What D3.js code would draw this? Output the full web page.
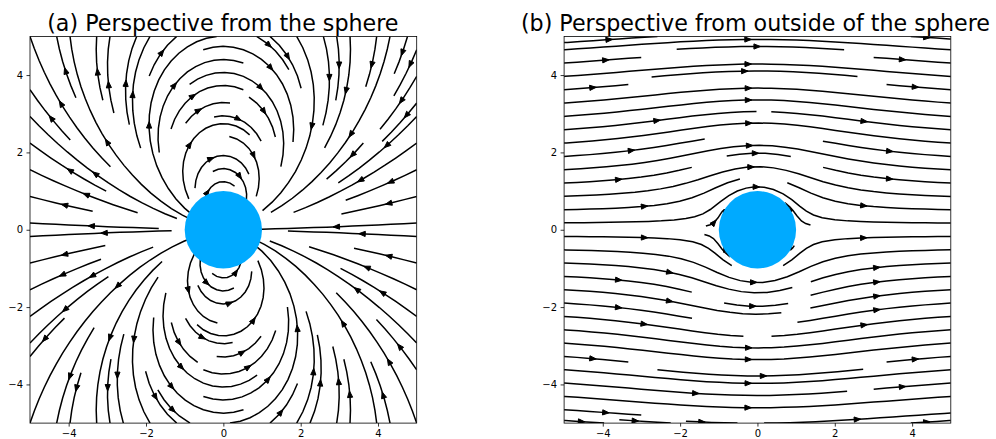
<!doctype html>
<html lang="en">
<head>
<meta charset="utf-8">
<title>Flow past a sphere</title>
<script src="https://d3js.org/d3.v7.min.js"></script>
<style>
  body { margin: 0; background: #fff; }
  text { font-family: "DejaVu Sans", sans-serif; }
</style>
</head>
<body>
<svg id="chart" width="996" height="439"></svg>
<script>
// values
const panelTitles = ["(a) Perspective from the sphere", "(b) Perspective from outside of the sphere"];
const flowModels = ["dipole", "stokes"];  // disturbance seen from the sphere / full flow past it
const flowSpeed = 1;
const sphereRadius = 1;
const gridRange = [-5, 5];
const gridPoints = 100;
const xTicks = [-4, -2, 0, 2, 4];
const yTicks = [-4, -2, 0, 2, 4];

// layout
const panelLeft = [30, 564.1];
const panelTop = 36.4;
const panelSize = 386.7;
const titleShift = [-0.5, -2];

const svg = d3.select("#chart");

// python style round (half to even)
function pyRound(v) {
  const f = Math.floor(v), d = v - f;
  if (d > 0.5) return f + 1;
  if (d < 0.5) return f;
  return f % 2 === 0 ? f : f + 1;
}

function velocityField(model) {
  const xs = d3.range(gridPoints).map(i => gridRange[0] + i * (gridRange[1] - gridRange[0]) / (gridPoints - 1));
  const n = xs.length;
  const U = new Float64Array(n * n), V = new Float64Array(n * n);
  const R = sphereRadius, R3 = Math.pow(R, 3);
  for (let j = 0; j < n; j++) {
    for (let i = 0; i < n; i++) {
      const x = xs[i], y = xs[j], r = Math.hypot(x, y), k = j * n + i;
      if (model === "dipole") {
        const a = R3 / (2 * Math.pow(r, 5));
        U[k] = -flowSpeed * a * (2 * x * x - y * y);
        V[k] = -flowSpeed * 3 * a * x * y;
      } else {
        const r2 = r * r, c = x * x / r2;
        U[k] = flowSpeed * (1 - 0.75 * R / r * (1 + c) - R3 / (4 * r * r2) * (1 - 3 * c));
        V[k] = flowSpeed * 0.75 * x * y / r2 * (R3 / (r * r2) - R / r);
      }
    }
  }
  return { xs: xs, ys: xs, U: U, V: V };
}

// port of matplotlib's streamplot seeding / integration
function streamlines(field) {
  const xs = field.xs, ys = field.ys;
  const nx = xs.length, ny = ys.length;
  const dx = xs[1] - xs[0], dy = ys[1] - ys[0];
  const mnx = 30, mny = 30;
  const mask = new Uint8Array(mnx * mny);
  let currentXY = null, traj = [];
  const xg2m = (mnx - 1) / (nx - 1), yg2m = (mny - 1) / (ny - 1);
  const OOB = {}, TERM = {}, INVALID = {};
  const minlength = 0.1, maxlength = 4.0;

  const ug = new Float64Array(nx * ny), vg = new Float64Array(nx * ny), speed = new Float64Array(nx * ny);
  for (let k = 0; k < nx * ny; k++) {
    ug[k] = field.U[k] / dx;
    vg[k] = field.V[k] / dy;
    const ua = ug[k] / (nx - 1), va = vg[k] / (ny - 1);
    speed[k] = Math.sqrt(ua * ua + va * va);
  }
  const within = (xi, yi) => xi >= 0 && xi <= nx - 1 && yi >= 0 && yi <= ny - 1;

  function interp(a, xi, yi) {
    const x = Math.trunc(xi), y = Math.trunc(yi);
    const xn = x === nx - 1 ? x : x + 1, yn = y === ny - 1 ? y : y + 1;
    const xt = xi - x, yt = yi - y;
    const a0 = a[y * nx + x] * (1 - xt) + a[y * nx + xn] * xt;
    const a1 = a[yn * nx + x] * (1 - xt) + a[yn * nx + xn] * xt;
    const ai = a0 * (1 - yt) + a1 * yt;
    if (Number.isNaN(ai)) throw TERM;
    return ai;
  }

  function updateMask(xm, ym) {
    if (!currentXY || currentXY[0] !== xm || currentXY[1] !== ym) {
      if (mask[ym * mnx + xm] === 0) {
        traj.push(ym * mnx + xm);
        mask[ym * mnx + xm] = 1;
        currentXY = [xm, ym];
      } else {
        throw INVALID;
      }
    }
  }
  const g2m = (xi, yi) => [pyRound(xi * xg2m), pyRound(yi * yg2m)];
  function updateTrajectory(xi, yi) {
    if (!within(xi, yi)) throw INVALID;
    const m = g2m(xi, yi);
    updateMask(m[0], m[1]);
  }

  function forward(xi, yi) {
    if (!within(xi, yi)) throw OOB;
    const s = interp(speed, xi, yi);
    if (s === 0) throw TERM;
    const dt = 1 / s;
    return [interp(ug, xi, yi) * dt, interp(vg, xi, yi) * dt];
  }
  function backward(xi, yi) {
    const d = forward(xi, yi);
    return [-d[0], -d[1]];
  }

  function euler(pts, f) {
    const last = pts[pts.length - 1];
    const xi = last[0], yi = last[1];
    const c = f(xi, yi), cx = c[0], cy = c[1];
    const dsx = cx === 0 ? Infinity : cx < 0 ? xi / -cx : (nx - 1 - xi) / cx;
    const dsy = cy === 0 ? Infinity : cy < 0 ? yi / -cy : (ny - 1 - yi) / cy;
    const ds = Math.min(dsx, dsy);
    pts.push([xi + cx * ds, yi + cy * ds]);
    return ds;
  }

  function rk12(x0, y0, f) {
    const maxerror = 0.003;
    const maxds = Math.min(1 / mnx, 1 / mny, 0.1);
    let ds = maxds, stotal = 0, xi = x0, yi = y0;
    const pts = [];
    while (true) {
      let k1, k2;
      try {
        if (within(xi, yi)) pts.push([xi, yi]);
        else throw OOB;
        k1 = f(xi, yi);
        k2 = f(xi + ds * k1[0], yi + ds * k1[1]);
      } catch (e) {
        if (e === OOB) {
          if (pts.length) {
            try { stotal += euler(pts, f); } catch (e2) { /* masked edge */ }
          }
          break;
        }
        if (e === TERM) break;
        throw e;
      }
      const dx1 = ds * k1[0], dy1 = ds * k1[1];
      const dx2 = ds * 0.5 * (k1[0] + k2[0]), dy2 = ds * 0.5 * (k1[1] + k2[1]);
      const error = Math.hypot((dx2 - dx1) / (nx - 1), (dy2 - dy1) / (ny - 1));
      if (error < maxerror) {
        xi += dx2;
        yi += dy2;
        try { updateTrajectory(xi, yi); } catch (e) { if (e === INVALID) break; throw e; }
        if (stotal + ds > maxlength) break;
        stotal += ds;
      }
      ds = error === 0 ? maxds : Math.min(maxds, 0.85 * ds * Math.sqrt(maxerror / error));
    }
    return [stotal, pts];
  }

  function integrate(x0, y0) {
    let stotal = 0, pts = [];
    try {
      const m = g2m(x0, y0);
      traj = [];
      updateMask(m[0], m[1]);
    } catch (e) {
      if (e === INVALID) return null;
      throw e;
    }
    let res = rk12(x0, y0, backward);
    stotal += res[0];
    pts = res[1].reverse();
    currentXY = g2m(x0, y0);
    res = rk12(x0, y0, forward);
    stotal += res[0];
    pts = pts.concat(res[1].slice(1));
    if (stotal > minlength) return pts;
    traj.forEach(k => { mask[k] = 0; });
    return null;
  }

  const lines = [];
  let xfirst = 0, yfirst = 1, xlast = mnx - 1, ylast = mny - 1, x = 0, y = 0, dir = 0;
  for (let i = 0; i < mnx * mny; i++) {
    if (x >= 0 && x < mnx && y >= 0 && y < mny && mask[y * mnx + x] === 0) {
      const t = integrate(x / xg2m, y / yg2m);
      if (t) lines.push(t.map(p => [p[0] * dx + xs[0], p[1] * dy + ys[0]]));
    }
    if (dir === 0) { x++; if (x >= xlast) { xlast--; dir = 1; } }
    else if (dir === 1) { y++; if (y >= ylast) { ylast--; dir = 2; } }
    else if (dir === 2) { x--; if (x <= xfirst) { xfirst++; dir = 3; } }
    else { y--; if (y <= yfirst) { yfirst++; dir = 0; } }
  }
  return lines;
}

function drawPanel(p) {
  const x = d3.scaleLinear().domain(gridRange).range([panelLeft[p], panelLeft[p] + panelSize]);
  const y = d3.scaleLinear().domain(gridRange).range([panelTop + panelSize, panelTop]);
  const g = svg.append("g");

  g.append("clipPath").attr("id", "clip" + p)
    .append("rect")
    .attr("x", x.range()[0]).attr("y", panelTop)
    .attr("width", panelSize).attr("height", panelSize);

  const plot = g.append("g").attr("clip-path", `url(#clip${p})`);
  const lines = streamlines(velocityField(flowModels[p]));

  const line = d3.line().x(d => x(d[0])).y(d => y(d[1]));
  plot.selectAll("path.stream")
    .data(lines)
    .enter().append("path")
    .attr("class", "stream")
    .attr("d", line)
    .attr("fill", "none")
    .attr("stroke", "#000")
    .attr("stroke-width", 1.5);

  // arrow heads half way along each line
  const headLen = 6.5, headHalf = 2.6;
  plot.selectAll("path.arrow")
    .data(lines)
    .enter().append("path")
    .attr("class", "arrow")
    .attr("d", pts => {
      let acc = 0;
      const s = [];
      for (let i = 1; i < pts.length; i++) {
        acc += Math.hypot(pts[i][0] - pts[i - 1][0], pts[i][1] - pts[i - 1][1]);
        s.push(acc);
      }
      const n = Math.min(d3.bisectLeft(s, acc / 2), pts.length - 1);
      const tail = pts[n], nxt = pts[Math.min(n + 1, pts.length - 1)];
      const tx = x(tail[0]), ty = y(tail[1]);
      const hx = x((tail[0] + nxt[0]) / 2), hy = y((tail[1] + nxt[1]) / 2);
      let ux = hx - tx, uy = hy - ty;
      const len = Math.hypot(ux, uy) || 1;
      ux /= len; uy /= len;
      const bx = hx - ux * headLen, by = hy - uy * headLen;
      return `M${hx},${hy}L${bx - uy * headHalf},${by + ux * headHalf}L${bx + uy * headHalf},${by - ux * headHalf}Z`;
    })
    .attr("fill", "#000")
    .attr("stroke", "#000")
    .attr("stroke-width", 1)
    .attr("stroke-linejoin", "miter");

  // the sphere
  plot.append("circle")
    .attr("cx", x(0)).attr("cy", y(0))
    .attr("r", x(sphereRadius) - x(0))
    .attr("fill", "#00aaff");

  // axes
  const fmt = d => d < 0 ? "\u2212" + Math.abs(d) : d;
  const xAxis = d3.axisBottom(x).tickValues(xTicks).tickSize(3.5).tickPadding(3.5).tickFormat(fmt);
  const yAxis = d3.axisLeft(y).tickValues(yTicks).tickSize(3.5).tickPadding(3.5).tickFormat(fmt);
  const ax = g.append("g").attr("transform", `translate(0,${panelTop + panelSize})`).call(xAxis);
  const ay = g.append("g").attr("transform", `translate(${panelLeft[p]},0)`).call(yAxis);
  [ax, ay].forEach(a => {
    a.select(".domain").remove();
    a.selectAll("line").attr("stroke", "#000").attr("stroke-width", 0.8);
    a.selectAll("text").attr("fill", "#000").style("font-size", "10px")
      .style("font-family", "'DejaVu Sans', sans-serif");
  });

  g.append("rect")
    .attr("x", x.range()[0]).attr("y", panelTop)
    .attr("width", panelSize).attr("height", panelSize)
    .attr("fill", "none").attr("stroke", "#000").attr("stroke-width", 0.8);

  g.append("text")
    .attr("x", x(0) + titleShift[p]).attr("y", 31)
    .attr("text-anchor", "middle")
    .style("font-size", "22.2px")
    .text(panelTitles[p]);
}

drawPanel(0);
drawPanel(1);
</script>
</body>
</html>
